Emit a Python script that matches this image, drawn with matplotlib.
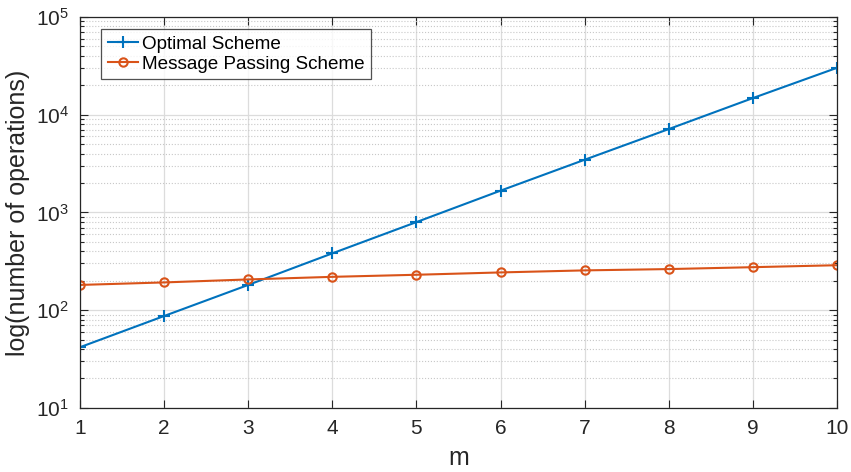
import matplotlib
matplotlib.use("Agg")
import matplotlib.pyplot as plt
from matplotlib.ticker import LogLocator, NullFormatter

plt.rcParams['font.family'] = ['Liberation Sans', 'DejaVu Sans']

m = [1, 2, 3, 4, 5, 6, 7, 8, 9, 10]
optimal = [41.7, 87, 181, 381, 796, 1670, 3460, 7130, 14800, 30200]
message_passing = [181, 192, 206, 219, 230, 243, 255, 263, 275, 288]

fig = plt.figure(figsize=(8.51, 4.72), dpi=100)
ax = fig.add_axes([0.094, 0.136, 0.8896, 0.828])

ax.semilogy(m, optimal, color='#0072BD', marker='+', markersize=8,
            markeredgewidth=1.5, linewidth=1.5, label='Optimal Scheme')
ax.semilogy(m, message_passing, color='#D95319', marker='o', markersize=6,
            markerfacecolor='none', markeredgewidth=1.5, linewidth=1.5,
            label='Message Passing Scheme')

ax.set_xlim(1, 10)
ax.set_ylim(10, 1e5)
ax.set_xticks(m)
ax.yaxis.set_major_locator(LogLocator(base=10, numticks=10))
ax.yaxis.set_minor_locator(LogLocator(base=10, subs=range(2, 10), numticks=50))
ax.yaxis.set_minor_formatter(NullFormatter())

ax.grid(True, which='major', color='#dcdcdc', linestyle='-', linewidth=0.9)
ax.grid(True, which='minor', axis='y', color='#c8c8c8', linestyle=':', linewidth=0.8)
ax.set_axisbelow(True)

ax.tick_params(which='both', direction='in', top=True, right=True,
               labelsize=15, colors='#262626', width=0.8)
ax.tick_params(which='major', length=6, pad=8)
ax.tick_params(which='minor', length=3)
for s in ax.spines.values():
    s.set_color('#262626')
    s.set_linewidth(0.9)

ax.set_xlabel('m', fontsize=18, color='#262626', labelpad=6)
ax.set_ylabel('log(number of operations)', fontsize=18, color='#262626', labelpad=4)

leg = ax.legend(loc='upper left', bbox_to_anchor=(0.028, 0.97), fontsize=13.6,
                frameon=True, fancybox=False, edgecolor='#262626',
                handlelength=1.6, handletextpad=0.2, borderpad=0.35,
                labelspacing=0.15, borderaxespad=0)
leg.get_frame().set_linewidth(0.9)

fig.savefig('out.png', dpi=100)
